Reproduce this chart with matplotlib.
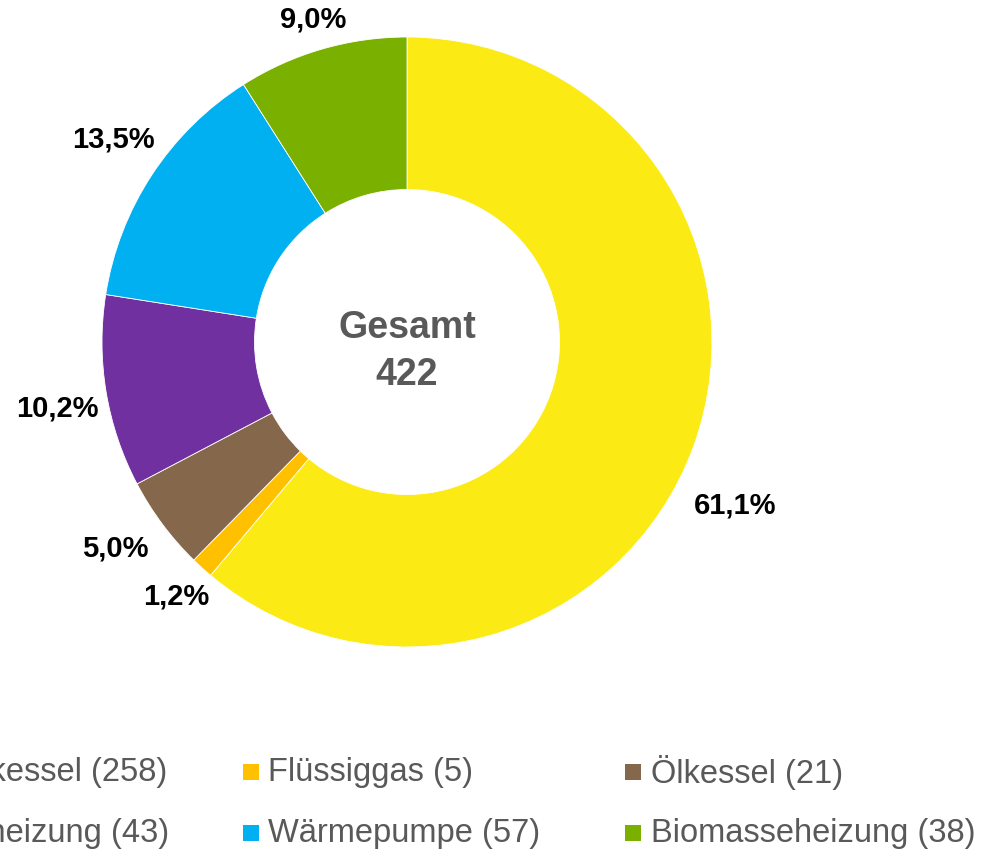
import numpy as np
import matplotlib.pyplot as plt
from matplotlib.patches import Rectangle

plt.rcParams['font.family'] = ['Liberation Sans', 'DejaVu Sans']

# data
categories = ["Erdgaskessel", "Flüssiggas", "Ölkessel",
              "Elektroheizung", "Wärmepumpe", "Biomasseheizung"]
counts = [258, 5, 21, 43, 57, 38]
colors = ["#FCEA14", "#FFC000", "#85674B", "#7030A0", "#00B0F0", "#7AB000"]

total = sum(counts)
fig = plt.figure(figsize=(9.94, 8.55), dpi=100)

# donut: centre at (407, 342) px, outer radius 305 px
W, H = 994, 855
cx, cy, R = 407, 342, 305
ax = fig.add_axes([(cx - R) / W, (H - cy - R) / H, 2 * R / W, 2 * R / H])

wedges, _ = ax.pie(counts, colors=colors, startangle=90, counterclock=False,
                   radius=1.0, wedgeprops=dict(width=0.5, edgecolor="white", linewidth=0.6))
ax.set_xlim(-1, 1)
ax.set_ylim(-1, 1)
ax.set_aspect("equal")
ax.axis("off")

# percentage labels outside the ring (Excel pushes the big one a bit lower)
nudge = {0: (-0.01, -0.14), 2: (-0.05, 0.0), 3: (-0.01, -0.03), 4: (0.0, 0.03)}
for i, (w, n) in enumerate(zip(wedges, counts)):
    ang = np.deg2rad((w.theta1 + w.theta2) / 2)
    txt = f"{100 * n / total:.1f}".replace(".", ",") + "%"
    tw = 0.047 * len(txt)
    r = 1.03 + 0.5 * (tw * abs(np.cos(ang)) + 0.09 * abs(np.sin(ang)))
    dx, dy = nudge.get(i, (0, 0))
    ax.text(r * np.cos(ang) + dx, r * np.sin(ang) + dy, txt, ha="center", va="center",
            fontsize=21, fontweight="bold", color="black", clip_on=False)

ax.text(0, 0.013, "Gesamt", ha="center", va="baseline", fontsize=27,
        fontweight="bold", color="#595959")
ax.text(0, -0.141, f"{total}", ha="center", va="baseline", fontsize=27,
        fontweight="bold", color="#595959")

# legend, 3 columns, first column runs off the left edge
col_x0, col_dx = -140, 382.5
row_y0, row_dy = 772, 61
sq = 16
for i, (name, n, c) in enumerate(zip(categories, counts, colors)):
    col, row = i % 3, i // 3
    x = col_x0 + col * col_dx
    y = row_y0 + row * row_dy
    fig.patches.append(Rectangle((x / W, (H - y - sq / 2) / H), sq / W, sq / H,
                                 transform=fig.transFigure, facecolor=c, edgecolor="none"))
    fig.text((x + sq + 10) / W, (H - y) / H, f"{name} ({n})", ha="left", va="center",
             fontsize=23.5, color="#595959")

fig.savefig("out.png", dpi=100)
